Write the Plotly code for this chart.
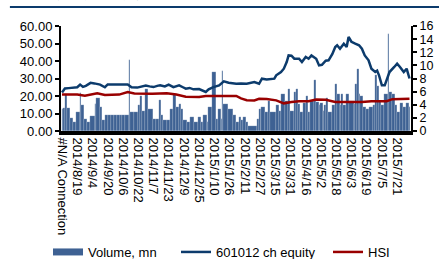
import pandas as pd
import plotly.graph_objects as go

# ---- data ----
tick_labels = ["#N/A Connection", "2014/8/19", "2014/9/4", "2014/9/20", "2014/10/6", "2014/10/22",
               "2014/11/7", "2014/11/23", "2014/12/9", "2014/12/25", "2015/1/10", "2015/1/26",
               "2015/2/11", "2015/2/27", "2015/3/15", "2015/3/31", "2015/4/16", "2015/5/2",
               "2015/5/18", "2015/6/3", "2015/6/19", "2015/7/5", "2015/7/21"]
first_tick_date = "2014-08-03"

price_dates = ["2014-08-03", "2014-08-06", "2014-08-10", "2014-08-14", "2014-08-19", "2014-08-22",
               "2014-08-25", "2014-08-28", "2014-09-02", "2014-09-06", "2014-09-09", "2014-09-12",
               "2014-09-17", "2014-09-20", "2014-10-11", "2014-10-15", "2014-10-21", "2014-10-26",
               "2014-10-30", "2014-11-03", "2014-11-07", "2014-11-11", "2014-11-14", "2014-11-19",
               "2014-11-23", "2014-11-28", "2014-12-01", "2014-12-04", "2014-12-08", "2014-12-11",
               "2014-12-15", "2014-12-19", "2014-12-25", "2014-12-29", "2015-01-01", "2015-01-04",
               "2015-01-09", "2015-01-15", "2015-01-20", "2015-01-25", "2015-02-02", "2015-02-07",
               "2015-02-13", "2015-02-21", "2015-02-26", "2015-03-01", "2015-03-06", "2015-03-14",
               "2015-03-16", "2015-03-21", "2015-03-24", "2015-03-27", "2015-03-29", "2015-04-01",
               "2015-04-04", "2015-04-09", "2015-04-12", "2015-04-16", "2015-04-19", "2015-04-22",
               "2015-04-27", "2015-04-30", "2015-05-03", "2015-05-07", "2015-05-10", "2015-05-14",
               "2015-05-17", "2015-05-19", "2015-05-22", "2015-05-26", "2015-05-29", "2015-05-31",
               "2015-06-03", "2015-06-07", "2015-06-11", "2015-06-14", "2015-06-17", "2015-06-21",
               "2015-06-24", "2015-06-28", "2015-06-30", "2015-07-02", "2015-07-05", "2015-07-08",
               "2015-07-10", "2015-07-13", "2015-07-18", "2015-07-21", "2015-07-24", "2015-07-28",
               "2015-07-31", "2015-08-03"]
price_values = [22.0, 24.3, 24.5, 24.8, 25.0, 26.5, 25.2, 25.8, 27.5, 27.2, 26.8, 26.5,
                25.0, 26.6, 26.6, 25.0, 24.8, 25.3, 26.0, 25.5, 25.1, 25.8, 26.1, 25.5,
                26.5, 25.1, 25.6, 26.1, 25.0, 24.2, 24.6, 23.8, 24.0, 23.0, 22.3, 23.8,
                25.1, 26.1, 28.4, 27.6, 27.0, 27.2, 27.0, 28.0, 27.0, 29.9, 29.5, 29.9,
                31.8, 33.7, 35.6, 39.4, 43.2, 43.0, 41.3, 41.3, 39.4, 42.3, 41.3, 43.2,
                41.3, 37.5, 37.8, 40.2, 40.4, 44.0, 48.0, 49.0, 47.0, 49.9, 48.0, 53.7,
                51.0, 49.9, 49.0, 47.0, 43.2, 40.4, 35.6, 33.7, 34.5, 31.8, 26.1, 26.1,
                29.0, 33.7, 36.6, 38.5, 36.6, 33.7, 35.6, 30.0]

hsi_dates = ["2014-08-03", "2014-08-19", "2014-08-27", "2014-09-02", "2014-09-09", "2014-09-17",
             "2014-10-02", "2014-10-11", "2014-10-18", "2014-11-06", "2014-11-21", "2014-12-01",
             "2014-12-11", "2014-12-25", "2015-01-01", "2015-02-02", "2015-02-07", "2015-02-13",
             "2015-02-21", "2015-02-26", "2015-03-06", "2015-03-16", "2015-03-24", "2015-04-01",
             "2015-04-09", "2015-04-19", "2015-04-27", "2015-05-07", "2015-05-17", "2015-06-14",
             "2015-06-24", "2015-07-10", "2015-07-16", "2015-08-03"]
hsi_values = [20.8, 20.8, 20.1, 20.8, 21.6, 20.6, 20.8, 22.3, 21.5, 21.3, 21.6, 20.8,
              19.6, 19.4, 20.0, 20.0, 18.6, 17.6, 17.5, 18.4, 18.3, 17.5, 15.8, 16.6,
              17.0, 17.0, 18.0, 17.8, 16.6, 16.6, 17.0, 17.0, 18.2, 18.5]

vol_dates = ["2014-08-03", "2014-08-05", "2014-08-07", "2014-08-09", "2014-08-12", "2014-08-15",
             "2014-08-18", "2014-08-22", "2014-08-23", "2014-08-27", "2014-08-30", "2014-09-02",
             "2014-09-07", "2014-09-08", "2014-09-12", "2014-09-15", "2014-09-18", "2014-09-21",
             "2014-09-24", "2014-09-27", "2014-09-30", "2014-10-03", "2014-10-06", "2014-10-09",
             "2014-10-13", "2014-10-14", "2014-10-18", "2014-10-22", "2014-10-24", "2014-10-27",
             "2014-10-30", "2014-11-02", "2014-11-07", "2014-11-10", "2014-11-13", "2014-11-15",
             "2014-11-18", "2014-11-22", "2014-11-25", "2014-11-28", "2014-12-01", "2014-12-04",
             "2014-12-06", "2014-12-09", "2014-12-13", "2014-12-16", "2014-12-20", "2014-12-24",
             "2014-12-27", "2014-12-30", "2015-01-03", "2015-01-04", "2015-01-08", "2015-01-12",
             "2015-01-14", "2015-01-17", "2015-01-19", "2015-01-20", "2015-01-25", "2015-01-30",
             "2015-02-02", "2015-02-05", "2015-02-08", "2015-02-10", "2015-02-13", "2015-02-15",
             "2015-02-24", "2015-02-26", "2015-02-28", "2015-03-01", "2015-03-05", "2015-03-08",
             "2015-03-10", "2015-03-16", "2015-03-19", "2015-03-22", "2015-03-26", "2015-03-29",
             "2015-03-31", "2015-04-04", "2015-04-06", "2015-04-08", "2015-04-11", "2015-04-14",
             "2015-04-17", "2015-04-19", "2015-04-21", "2015-04-25", "2015-04-27", "2015-04-30",
             "2015-05-02", "2015-05-05", "2015-05-06", "2015-05-08", "2015-05-10", "2015-05-14",
             "2015-05-17", "2015-05-19", "2015-05-22", "2015-05-24", "2015-05-26", "2015-05-29",
             "2015-06-01", "2015-06-06", "2015-06-07", "2015-06-09", "2015-06-11", "2015-06-12",
             "2015-06-16", "2015-06-19", "2015-06-22", "2015-06-26", "2015-06-28", "2015-06-30",
             "2015-07-02", "2015-07-05", "2015-07-08", "2015-07-12", "2015-07-13", "2015-07-16",
             "2015-07-19", "2015-07-21", "2015-07-24", "2015-07-28", "2015-07-31", "2015-08-03"]
vol_values = [3.3, 3.5, 5.7, 3.5, 2.0, 1.4, 2.9, 5.8, 3.9, 1.9, 1.4, 2.3,
              4.1, 5.0, 3.7, 1.7, 2.4, 2.4, 2.4, 2.4, 2.4, 2.4, 2.4, 2.4,
              10.8, 2.9, 2.9, 3.9, 5.4, 3.0, 6.4, 3.4, 1.9, 1.9, 4.7, 2.4,
              1.7, 1.7, 3.4, 5.7, 3.6, 4.1, 3.4, 1.7, 1.4, 2.2, 1.4, 2.2,
              1.4, 2.4, 1.4, 3.6, 9.0, 1.9, 3.4, 1.9, 9.2, 4.1, 3.4, 2.4,
              1.4, 2.2, 1.7, 2.2, 1.4, 0.8, 1.9, 3.4, 8.5, 3.6, 2.9, 4.6,
              2.9, 3.9, 3.0, 5.7, 4.6, 6.4, 3.0, 6.0, 6.4, 4.1, 2.9, 4.3,
              5.3, 2.9, 4.6, 7.7, 4.4, 3.9, 4.3, 3.0, 3.9, 5.0, 2.9, 3.9,
              7.2, 5.7, 3.9, 5.7, 3.9, 5.7, 4.6, 4.1, 7.2, 9.5, 5.7, 5.3,
              3.6, 3.4, 3.6, 3.9, 8.5, 6.9, 4.6, 3.9, 5.7, 14.8, 5.9, 5.7,
              3.9, 2.9, 4.3, 3.6, 4.3, 3.6]

# ---- derived ----
tick_dates = [pd.Timestamp(first_tick_date)] + [pd.to_datetime(t, format="%Y/%m/%d") for t in tick_labels[1:]]
vd = pd.to_datetime(pd.Series(vol_dates))
DAY = 86400000
widths = list((vd.shift(-1) - vd).dt.total_seconds().fillna(86400) * 1000)

BAR = "#3E6193"
NAVY = "#0C3B6C"
RED = "#990000"
FONT = "Liberation Sans, Arial, sans-serif"

W, H = 439, 259

fig = go.Figure()
fig.add_trace(go.Bar(x=vd, y=vol_values, width=widths, offset=-DAY / 2,
                     marker=dict(color=BAR, line=dict(color="rgba(255,255,255,0.5)", width=0.3)),
                     name="Volume, mn", showlegend=False, yaxis="y"))
fig.add_trace(go.Scatter(x=[None], y=[None], mode="lines", name="Volume, mn",
                         line=dict(color=BAR, width=7), yaxis="y2", legend="legend"))
fig.add_trace(go.Scatter(x=pd.to_datetime(price_dates), y=price_values, mode="lines",
                         name="601012 ch equity", line=dict(color=NAVY, width=2.5), yaxis="y2",
                         legend="legend2"))
fig.add_trace(go.Scatter(x=pd.to_datetime(hsi_dates), y=hsi_values, mode="lines",
                         name="HSI", line=dict(color=RED, width=2.5), yaxis="y2",
                         legend="legend3"))

leg_common = dict(orientation="h", xref="container", yref="container", xanchor="left",
                  y=1 - 252 / H, yanchor="middle", font=dict(size=13), itemwidth=30,
                  bgcolor="rgba(0,0,0,0)")

fig.update_layout(
    width=W, height=H,
    margin=dict(l=61, r=28, t=26, b=128, autoexpand=False),
    paper_bgcolor="white", plot_bgcolor="white",
    font=dict(family=FONT, size=13, color="black"),
    bargap=0,
    showlegend=True,
    legend=dict(x=48 / W, **leg_common),
    legend2=dict(x=176 / W, **leg_common),
    legend3=dict(x=328 / W, **leg_common),
    xaxis=dict(type="date", range=["2014-08-01 22:00", "2015-08-04 14:00"],
               tickmode="array", tickvals=tick_dates, ticktext=tick_labels,
               tickangle=90, showgrid=False, zeroline=False, automargin=False,
               showline=True, linecolor="black", linewidth=4,
               ticks="", tickfont=dict(size=13)),
    yaxis=dict(range=[0, 16], dtick=2, side="right", showgrid=False, zeroline=False,
               showline=True, linecolor="black", linewidth=2, automargin=False,
               ticks="outside", ticklen=4, tickwidth=1.5, tickcolor="black",
               tickfont=dict(size=12.5)),
    yaxis2=dict(range=[0, 60], dtick=10, tickformat=".2f", side="left", overlaying="y",
                showgrid=False, zeroline=False, automargin=False,
                showline=True, linecolor="black", linewidth=2,
                ticks="outside", ticklen=4, tickwidth=1.5, tickcolor="black",
                tickfont=dict(size=13)),
    shapes=[dict(type="line", xref="paper", yref="paper", x0=-0.146, x1=1.1, y0=1.181, y1=1.181,
                 layer="above", line=dict(color=NAVY, width=2))],
    annotations=[dict(text="<b>股价表现 — 成交量走势</b>", xref="paper", yref="paper",
                      x=-0.14, y=1.21, xanchor="left", yanchor="bottom", showarrow=False,
                      font=dict(size=13, color=NAVY, family="Noto Sans CJK SC"))],
)

fig.write_html("out.html", config={"displayModeBar": False},
               post_script="document.body.style.margin='0';")
